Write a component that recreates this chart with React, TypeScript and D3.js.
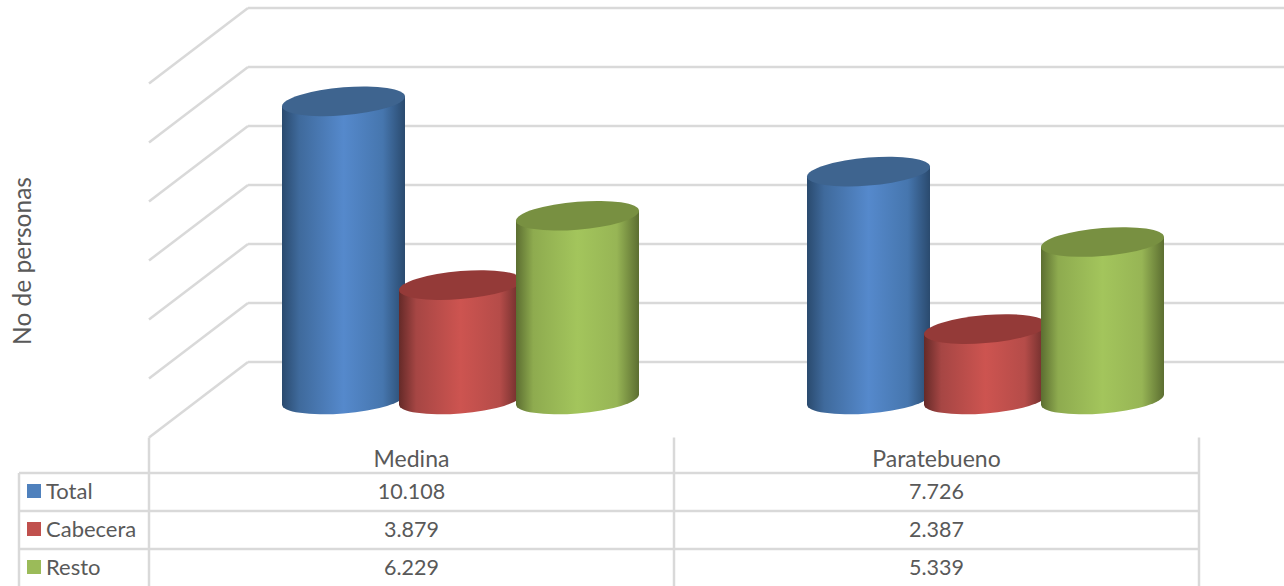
import * as d3 from 'd3';

const categories = ['Medina', 'Paratebueno'];
const seriesNames = ['Total', 'Cabecera', 'Resto'];
const total = [10108, 7726];
const cabecera = [3879, 2387];
const resto = [6229, 5339];
const valueLabels = [
  ['10.108', '7.726'],
  ['3.879', '2.387'],
  ['6.229', '5.339'],
];
const gridTicks = [0, 2000, 4000, 6000, 8000, 10000, 12000];
const seriesValues = [total, cabecera, resto];

const WIDTH = 1284;
const HEIGHT = 586;
const GRID = '#d9d9d9';
const TEXT = '#595959';
const FONT = 'Lato, "Open Sans", sans-serif';

// wall offset of the fake 3D box
const DEPTH_X = 99;
const DEPTH_Y = 75.5;
const BAR_RX = 61.5;
const BAR_RY = 14;
const BAR_SHEAR = 0.08;

const COLORS = [
  { key: 'blue', swatch: '#4f81bd', top: '#3e648f', stops: ['#2a4a6e', '#3f6a9c', '#5589cc', '#4676ae', '#2a4a6e'] },
  { key: 'red', swatch: '#c0504d', top: '#943a38', stops: ['#652a28', '#a64644', '#cd5450', '#b54c49', '#652a28'] },
  { key: 'green', swatch: '#9bbb59', top: '#789041', stops: ['#5c6e31', '#8eab4f', '#a3c55c', '#97b555', '#5c6e31'] },
];
const STOP_OFFSETS = ['0%', '14%', '50%', '82%', '100%'];

const y = d3.scaleLinear().domain([0, 12000]).range([362, 8]);
const xCat = d3.scaleBand<string>().domain(categories).range([149, 1199]);
// bar groups sit right of the table column centres because of the depth
const xBar = d3.scaleBand<string>().domain(seriesNames).range([-126.5, 224.5]);
const rowY = d3.scaleBand<string>().domain(seriesNames).range([473, 587]);

const FLOOR_SHIFT = 37.5;

function Cylinder({ cx, value, color }: { cx: number; value: number; color: (typeof COLORS)[number] }) {
  const h = y(0) - y(value);
  const topY = y(value) + FLOOR_SHIFT;
  const body = `M${-BAR_RX},0 L${-BAR_RX},${h} A${BAR_RX},${BAR_RY} 0 0 0 ${BAR_RX},${h} L${BAR_RX},0 Z`;
  return (
    <g transform={`matrix(1,${-BAR_SHEAR},0,1,${cx},${topY})`}>
      <path d={body} fill={`url(#cyl-${color.key})`} />
      <ellipse cx={0} cy={0} rx={BAR_RX} ry={BAR_RY} fill={color.top} />
    </g>
  );
}

export default function App() {
  const [x0, x1] = xCat.range();
  const backX = x0 + DEPTH_X;
  const tableTop = y(0) + DEPTH_Y;

  return (
    <svg
      width={WIDTH}
      height={HEIGHT}
      viewBox={`0 0 ${WIDTH} ${HEIGHT}`}
      style={{ position: 'absolute', left: 0, top: 0, display: 'block', background: '#fff' }}
      fontFamily={FONT}
    >
      <defs>
        {COLORS.map((c) => (
          <linearGradient key={c.key} id={`cyl-${c.key}`} x1="0" x2="1" y1="0" y2="0">
            {c.stops.map((s, i) => (
              <stop key={i} offset={STOP_OFFSETS[i]} stopColor={s} />
            ))}
          </linearGradient>
        ))}
      </defs>

      {gridTicks.map((t) => (
        <g key={t} fill="none" stroke={GRID} strokeWidth={2.5}>
          <line x1={backX} x2={WIDTH} y1={y(t)} y2={y(t)} />
          <line x1={x0} x2={backX} y1={y(t) + DEPTH_Y} y2={y(t)} />
        </g>
      ))}

      {categories.map((cat, i) =>
        seriesNames.map((name, j) => (
          <Cylinder
            key={cat + name}
            cx={(xCat(cat) as number) + xCat.bandwidth() / 2 + (xBar(name) as number) + xBar.bandwidth() / 2}
            value={seriesValues[j][i]}
            color={COLORS[j]}
          />
        )),
      )}

      <text transform="translate(31,261) rotate(-90)" textAnchor="middle" fontSize={24.5} fill={TEXT}>
        No de personas
      </text>

      {/* data table under the plot */}
      <g stroke={GRID} strokeWidth={2.5}>
        <line x1={x0} x2={x0} y1={tableTop} y2={HEIGHT} />
        {categories.map((cat) => {
          const right = (xCat(cat) as number) + xCat.bandwidth();
          return <line key={cat} x1={right} x2={right} y1={tableTop} y2={HEIGHT} />;
        })}
        <line x1={19} x2={19} y1={rowY('Total')} y2={HEIGHT} />
        {seriesNames.map((name) => (
          <line key={name} x1={19} x2={x1} y1={rowY(name)} y2={rowY(name)} />
        ))}
      </g>

      <g fill={TEXT}>
        {categories.map((cat) => (
          <text
            key={cat}
            x={(xCat(cat) as number) + xCat.bandwidth() / 2}
            y={467}
            textAnchor="middle"
            fontSize={23}
          >
            {cat}
          </text>
        ))}
        {seriesNames.map((name, j) => {
          const top = rowY(name) as number;
          return (
            <g key={name}>
              <rect x={27} y={top + 11} width={14} height={14} fill={COLORS[j].swatch} />
              <text x={46} y={top + 26} fontSize={22}>
                {name}
              </text>
              {categories.map((cat, i) => (
                <text
                  key={cat}
                  x={(xCat(cat) as number) + xCat.bandwidth() / 2}
                  y={top + 26}
                  textAnchor="middle"
                  fontSize={21.5}
                >
                  {valueLabels[j][i]}
                </text>
              ))}
            </g>
          );
        })}
      </g>
    </svg>
  );
}
